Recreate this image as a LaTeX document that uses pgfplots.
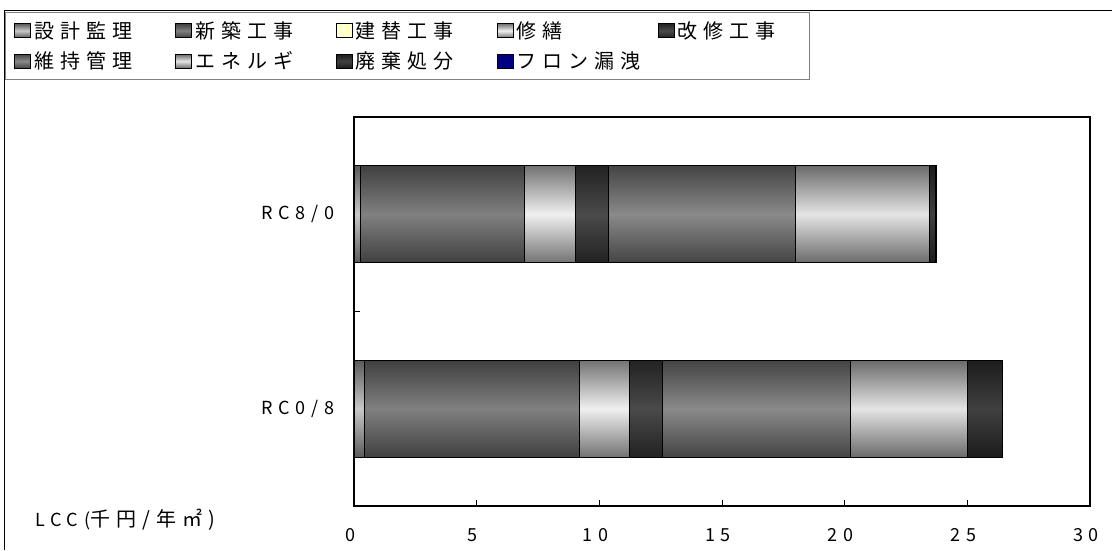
\documentclass[border=0pt]{standalone}
\usepackage{fontspec}
\usepackage{pgfplots}
\pgfplotsset{compat=1.18}
\setmainfont{Noto Sans CJK JP}
\newfontfamily\jp[LetterSpace=30]{Noto Sans CJK JP}
\newfontfamily\lat[LetterSpace=32]{Noto Sans CJK JP}
\newcommand\labelfont{\fontsize{18}{21}\selectfont}
\newcommand\jpfont{\fontsize{20}{23}\selectfont\jp}

% edge / centre tones of each cost component
\definecolor{aE}{HTML}{5A5A5A}\definecolor{aM}{HTML}{C8C8C8}
\definecolor{bE}{HTML}{404040}\definecolor{bM}{HTML}{808080}
\definecolor{cE}{HTML}{FFFFCC}\definecolor{cM}{HTML}{FFFFCC}
\definecolor{dE}{HTML}{727272}\definecolor{dM}{HTML}{F0F0F0}
\definecolor{eE}{HTML}{222222}\definecolor{eM}{HTML}{4A4A4A}
\definecolor{fE}{HTML}{444444}\definecolor{fM}{HTML}{8A8A8A}
\definecolor{gE}{HTML}{6A6A6A}\definecolor{gM}{HTML}{E4E4E4}
\definecolor{hE}{HTML}{1C1C1C}\definecolor{hM}{HTML}{404040}
\definecolor{iE}{HTML}{000080}\definecolor{iM}{HTML}{000080}

\pgfplotsset{
  seg/.style={draw=black, line width=0.8pt,
    top color=#1E, bottom color=#1E, middle color=#1M},
  lccaxis/.style={
    at={(354pt,-506pt)}, anchor=south west, scale only axis,
    width=736pt, height=389pt,
    xmin=0, xmax=30, ymin=-0.5, ymax=1.5,
    xbar stacked, bar width=0.5,
  },
}

\begin{document}
\begin{tikzpicture}
\useasboundingbox (0pt,0pt) rectangle (1112pt,-550pt);

% RC0/8 (lower bar) with frame, ticks and legend
\begin{axis}[lccaxis, clip=false,
  axis line style={line width=1.5pt, black},
  tick style={black, line width=1pt},
  tick align=inside, major tick length=6pt,
  xtick pos=bottom, ytick pos=left,
  xtick={0,5,10,15,20,25,30},
  xticklabels={0,5,10,15,20,25,30},
  ytick={-0.5,0.5,1.5}, yticklabels={},
  extra y ticks={0,1}, extra y tick labels={RC0/8,RC8/0},
  extra y tick style={major tick length=0pt},
  tick label style={font=\labelfont\lat},
  xticklabel style={yshift=-19pt, xshift=-4pt},
  yticklabel style={xshift=-16pt},
  legend columns=5,
  legend cell align=left,
  legend image code/.code={\draw[#1,line width=0.8pt] (0pt,-7pt) rectangle (16pt,7pt);},
  legend style={at={(axis description cs:-0.4742,1.2699)}, anchor=north west,
    draw=gray, line width=1pt, fill=white,
    font=\jpfont, row sep=6pt, inner xsep=9pt, inner ysep=6pt,
    nodes={text width=120pt, inner xsep=3pt, inner ysep=3pt},
    /tikz/every even column/.append style={column sep=18pt}},
]
\addplot[seg=a] coordinates {(0.41,0)};
\addplot[seg=b] coordinates {(8.77,0)};
\addplot[seg=c] coordinates {(0,0)};
\addplot[seg=d] coordinates {(2.03,0)};
\addplot[seg=e] coordinates {(1.35,0)};
\addplot[seg=f] coordinates {(7.67,0)};
\addplot[seg=g] coordinates {(4.76,0)};
\addplot[seg=h] coordinates {(1.42,0)};
\addplot[seg=i] coordinates {(0.03,0)};
\legend{設計監理,新築工事,建替工事,修繕,改修工事,維持管理,エネルギ,廃棄処分,フロン漏洩}
\node[anchor=west, inner sep=0pt] at (axis description cs:-0.4334,-0.036)
  {{\labelfont\lat LCC(}{\jpfont 千円/年㎡)}};
\end{axis}

% RC8/0 (upper bar)
\begin{axis}[lccaxis, hide axis]
\addplot[seg=a] coordinates {(0.27,1)};
\addplot[seg=b] coordinates {(6.66,1)};
\addplot[seg=c] coordinates {(0,1)};
\addplot[seg=d] coordinates {(2.09,1)};
\addplot[seg=e] coordinates {(1.35,1)};
\addplot[seg=f] coordinates {(7.64,1)};
\addplot[seg=g] coordinates {(5.44,1)};
\addplot[seg=h] coordinates {(0.25,1)};
\addplot[seg=i] coordinates {(0.03,1)};
\end{axis}

% chart area border
\draw[black, line width=1pt] (1112pt,-10.7pt) -- (4pt,-10.7pt) -- (4pt,-550pt);
\end{tikzpicture}
\end{document}
